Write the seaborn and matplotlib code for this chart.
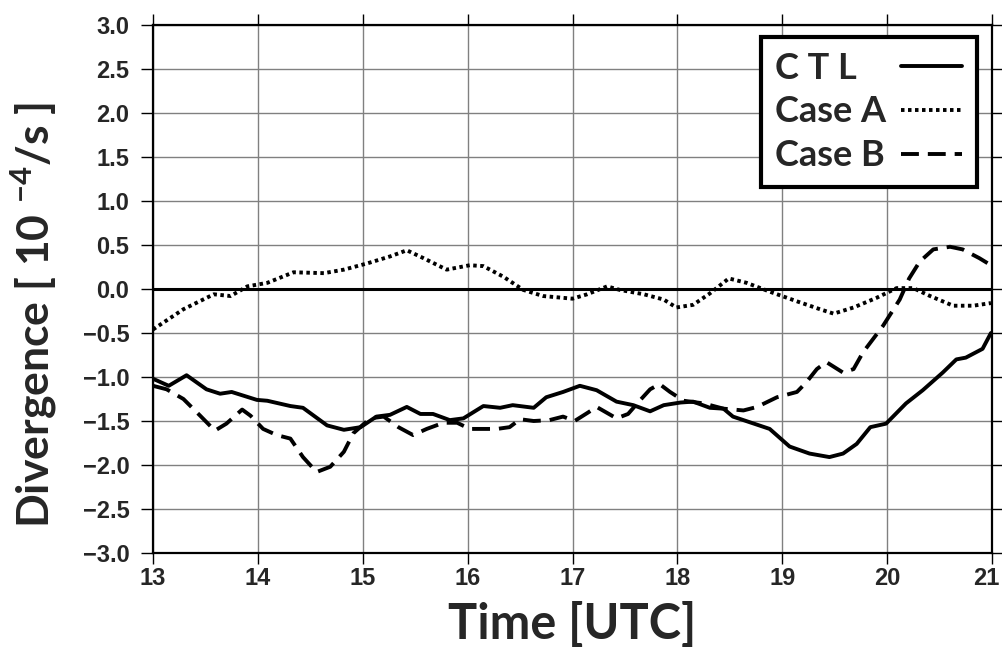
import numpy as np
import pandas as pd
import matplotlib
matplotlib.use("Agg")
import matplotlib.pyplot as plt
import matplotlib.transforms as mtransforms
import seaborn as sns

# ---- data ----
ctl_t = [13.0, 13.15, 13.32, 13.51, 13.64, 13.75, 13.99, 14.09, 14.31, 14.43, 14.66, 14.82, 14.98,
         15.13, 15.26, 15.42, 15.55, 15.67, 15.83, 15.96, 16.15, 16.31, 16.43, 16.63, 16.75, 16.91,
         17.07, 17.23, 17.42, 17.58, 17.74, 17.87, 18.03, 18.15, 18.31, 18.44, 18.53, 18.88, 19.07,
         19.26, 19.45, 19.58, 19.71, 19.84, 19.99, 20.18, 20.34, 20.53, 20.66, 20.75, 20.91, 20.99]
ctl_v = [-1.02, -1.10, -0.98, -1.14, -1.19, -1.17, -1.26, -1.27, -1.33, -1.35, -1.55, -1.60, -1.57,
         -1.45, -1.43, -1.34, -1.42, -1.42, -1.49, -1.47, -1.33, -1.35, -1.32, -1.35, -1.23, -1.17,
         -1.10, -1.15, -1.28, -1.32, -1.39, -1.32, -1.29, -1.28, -1.35, -1.36, -1.45, -1.59, -1.79,
         -1.87, -1.91, -1.87, -1.76, -1.57, -1.53, -1.30, -1.15, -0.95, -0.80, -0.78, -0.68, -0.50]

a_t = [13.0, 13.29, 13.58, 13.74, 13.9, 14.09, 14.34, 14.63, 14.82, 15.04, 15.26, 15.42, 15.58, 15.8,
       16.02, 16.15, 16.34, 16.53, 16.72, 17.0, 17.14, 17.33, 17.45, 17.68, 17.87, 17.99, 18.15,
       18.31, 18.49, 18.66, 18.88, 19.14, 19.36, 19.49, 19.68, 19.9, 20.09, 20.25, 20.41, 20.63,
       20.82, 20.99]
a_v = [-0.46, -0.23, -0.06, -0.08, 0.03, 0.07, 0.19, 0.18, 0.22, 0.29, 0.37, 0.44, 0.35, 0.22,
       0.27, 0.26, 0.14, -0.01, -0.08, -0.11, -0.06, 0.03, -0.01, -0.06, -0.12, -0.21, -0.18,
       -0.05, 0.12, 0.07, -0.03, -0.14, -0.23, -0.28, -0.21, -0.10, 0.01, 0.01, -0.08, -0.19,
       -0.19, -0.16]

b_t = [13.0, 13.13, 13.29, 13.45, 13.59, 13.7, 13.85, 13.93, 14.05, 14.18, 14.31, 14.43, 14.56,
       14.69, 14.82, 14.91, 15.07, 15.2, 15.34, 15.48, 15.61, 15.77, 15.9, 16.02, 16.28, 16.4,
       16.5, 16.63, 16.78, 16.91, 17.02, 17.14, 17.23, 17.42, 17.53, 17.64, 17.74, 17.83, 17.93,
       18.06, 18.25, 18.44, 18.63, 18.76, 18.95, 19.14, 19.23, 19.33, 19.42, 19.58, 19.68, 19.77,
       19.96, 20.12, 20.21, 20.31, 20.44, 20.6, 20.72, 20.88, 20.99]
b_v = [-1.10, -1.14, -1.25, -1.44, -1.61, -1.53, -1.37, -1.44, -1.59, -1.66, -1.70, -1.91, -2.08,
       -2.02, -1.85, -1.64, -1.47, -1.45, -1.57, -1.66, -1.59, -1.52, -1.52, -1.59, -1.59, -1.57,
       -1.48, -1.50, -1.49, -1.45, -1.50, -1.41, -1.34, -1.47, -1.42, -1.27, -1.14, -1.08, -1.17,
       -1.27, -1.30, -1.36, -1.38, -1.34, -1.23, -1.17, -1.06, -0.91, -0.83, -0.95, -0.91, -0.72,
       -0.42, -0.12, 0.12, 0.31, 0.45, 0.48, 0.45, 0.35, 0.27]

series_names = ["C T L", "Case A", "Case B"]
x_ticks = [13, 14, 15, 16, 17, 18, 19, 20, 21]
y_ticks = [-3.0, -2.5, -2.0, -1.5, -1.0, -0.5, 0.0, 0.5, 1.0, 1.5, 2.0, 2.5, 3.0]

# ---- plot ----
sns.set_theme(style="white")
plt.rcParams['font.family'] = ['Liberation Sans', 'DejaVu Sans']
plt.rcParams['mathtext.fontset'] = 'custom'
plt.rcParams['mathtext.rm'] = 'Lato'
plt.rcParams['mathtext.bf'] = 'Lato:bold'

fig = plt.figure(figsize=(10.03, 6.53), dpi=100)
ax = fig.add_axes([153/1003, 1-553/653, 839/1003, 528/653])

ax.grid(True, color="#808080", linewidth=1.0)
ax.set_axisbelow(True)
ax.axhline(0, color="black", linewidth=2.2, zorder=2)

lw = 2.8
sns.lineplot(x=ctl_t, y=ctl_v, ax=ax, color="black", linewidth=lw, label=series_names[0], zorder=3)
sns.lineplot(x=a_t, y=a_v, ax=ax, color="black", linewidth=lw, label=series_names[1], zorder=3)
sns.lineplot(x=b_t, y=b_v, ax=ax, color="black", linewidth=lw, label=series_names[2], zorder=3)
lines = ax.get_lines()
lines[-2].set_linestyle((0, (0.9, 0.9)))
lines[-2].set_dash_capstyle("butt")
lines[-1].set_linestyle((0, (4.6, 2.3)))
lines[-1].set_dash_capstyle("butt")

ax.set_xlim(13, 21)
ax.set_ylim(-3, 3)
ax.set_xticks(x_ticks)
ax.set_yticks(y_ticks)
ax.set_xticklabels([str(t) for t in x_ticks])
ax.set_yticklabels([f"{v:.1f}".replace("-", "\u2212") for v in y_ticks])
ax.tick_params(axis="both", which="both", direction="out", width=1.0, color="black",
               labelsize=17, left=True, bottom=True, right=True, top=True)
ax.tick_params(axis="y", length=9, pad=8)
ax.tick_params(axis="x", length=8, pad=2)
for lab in ax.get_xticklabels() + ax.get_yticklabels():
    lab.set_fontweight("bold")
# keep the last x tick label inside the canvas
last = ax.get_xticklabels()[-1]
last.set_transform(last.get_transform() +
                   mtransforms.ScaledTranslation(-4 / 72, 0, fig.dpi_scale_trans))
for s in ax.spines.values():
    s.set_color("black")
    s.set_linewidth(1.6)

ax.set_xlabel("Time [UTC]", fontsize=35, fontweight="bold", family=["Lato", "DejaVu Sans"],
              labelpad=8)
ax.set_ylabel(r"Divergence [ 10 $^{\mathbf{-4}}$/s ]", fontsize=32, fontweight="bold",
              family=["Lato", "DejaVu Sans"])
ax.yaxis.set_label_coords(-0.112, 0.45)

leg = ax.legend(loc="upper right", bbox_to_anchor=(0.982, 0.977), borderaxespad=0,
                markerfirst=False, frameon=True, fancybox=False, handlelength=1.7,
                handletextpad=0.4, borderpad=0.4, labelspacing=0.3,
                prop={"family": ["Lato", "DejaVu Sans"], "weight": "bold", "size": 26})
leg.get_frame().set_edgecolor("black")
leg.get_frame().set_linewidth(3)
leg.get_frame().set_alpha(1)

# left-align legend texts while keeping handles aligned on the right
fig.canvas.draw()
r = fig.canvas.get_renderer()
texts = leg.get_texts()
widths = [t.get_window_extent(r).width for t in texts]
maxw = max(widths)
col = leg._legend_handle_box.get_children()[0]
col.align = "left"
base_sep = leg.handletextpad * leg._fontsize
for hp, w in zip(col.get_children(), widths):
    hp.sep = base_sep + (maxw - w) * 72.0 / fig.dpi

fig.savefig("out.png", dpi=100)
